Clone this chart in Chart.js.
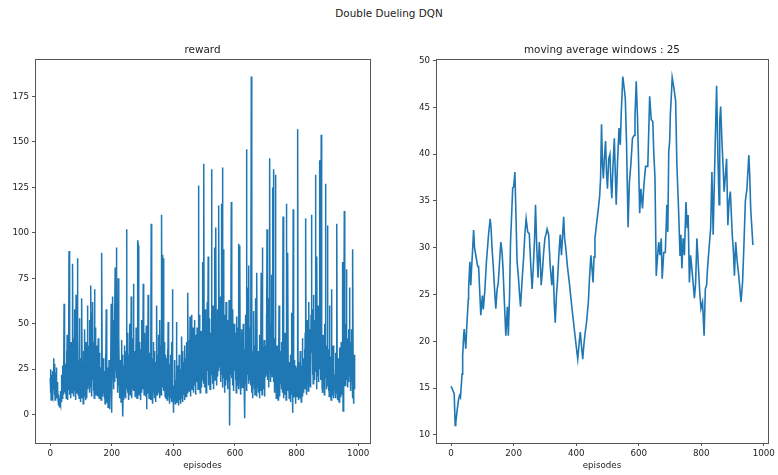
<!DOCTYPE html>
<html><head><meta charset="utf-8">
<script src="https://cdn.jsdelivr.net/npm/chart.js@4.4.1/dist/chart.umd.min.js"></script>
<style>
html,body{margin:0;padding:0;background:#fff;}
#wrap{position:relative;width:778px;height:475px;overflow:hidden;background:#fff;}
#sup{position:absolute;left:0;width:778px;top:7px;text-align:center;font-family:'DejaVu Sans';font-size:10.4px;line-height:13px;color:#222;}
canvas{position:absolute;top:0;}
</style></head><body>
<div id="wrap">
<div id="sup">Double Dueling DQN</div>
<canvas id="c1" width="389" height="475" style="left:0px"></canvas>
<canvas id="c2" width="389" height="475" style="left:389px"></canvas>
</div>
<script>
const suptitle = 'Double Dueling DQN';
const leftTitle = 'reward';
const rightTitle = 'moving average windows : 25';
const xLabel = 'episodes';
const episodeTicks = [0, 200, 400, 600, 800, 1000];
const rewardYTicks = [0, 25, 50, 75, 100, 125, 150, 175];
const maYTicks = [10, 15, 20, 25, 30, 35, 40, 45, 50];

const rewards = [
20,12,25,8,18,22,10,15,24,9,19,31,14,28,11,17,8,23,13,16,26,9,12,18,10,
14,7,11,5,9,4,8,6,13,5,10,7,18,22,9,27,12,15,20,11,61,16,24,13,19,
12,28,9,35,17,44,8,25,14,38,21,90,15,30,11,35,26,9,40,18,33,12,30,83,20,
16,42,10,27,58,13,34,8,24,66,19,37,12,86,22,48,11,30,15,9,53,18,26,7,31,
14,20,9,64,17,11,28,6,35,13,22,10,47,15,8,30,12,40,19,9,26,60,14,33,21,
38,18,52,12,29,44,15,71,24,10,56,33,19,62,27,13,40,22,9,69,35,17,48,21,11,
25,14,38,10,30,17,42,12,20,9,34,15,26,11,19,8,28,13,89,16,22,10,31,12,18,
15,9,24,6,33,12,20,58,11,17,7,26,14,4,22,10,30,8,16,3,19,12,27,61,5,
1,40,22,65,30,14,52,26,38,18,58,81,24,45,33,92,20,36,12,50,28,75,16,42,25,
18,9,30,12,24,7,41,15,20,10,33,-1,16,27,8,22,13,38,11,25,9,19,35,102,14,
26,12,45,19,33,8,28,50,15,22,11,37,18,65,24,9,30,14,42,20,72,27,13,35,17,
22,10,34,16,48,13,27,9,38,20,96,93,15,31,11,25,40,14,28,8,36,19,52,12,24,
30,14,72,21,37,11,45,18,26,10,33,16,49,3,24,12,39,20,66,15,28,9,34,17,23,
19,8,27,105,14,22,10,31,6,18,40,13,25,9,35,12,20,7,29,15,24,60,11,33,16,
28,12,44,17,35,9,52,21,14,38,11,26,110,19,30,15,88,24,86,13,40,18,27,10,33,
20,9,31,14,25,8,36,12,51,17,10,28,6,22,13,33,9,19,11,40,7,24,69,15,12,
1,16,8,24,11,30,6,19,13,9,51,14,7,22,10,27,5,18,12,33,8,15,20,6,25,
14,9,43,12,26,7,35,18,11,29,15,8,38,20,13,31,10,24,16,40,12,27,67,19,33,
22,13,41,17,54,24,10,36,19,45,55,14,30,21,48,12,27,38,16,52,20,33,11,44,25,
30,18,48,22,35,14,126,27,40,16,55,24,12,38,20,46,15,33,19,28,84,25,42,17,138,
26,44,15,58,21,33,12,49,27,18,62,24,37,87,16,41,20,30,53,14,28,45,19,36,135,
22,48,17,35,60,28,14,41,92,25,38,19,52,103,30,16,44,27,58,21,36,115,24,107,33,
40,26,65,18,50,31,116,22,44,136,29,15,91,37,20,55,12,34,24,47,16,62,28,19,38,
30,14,52,25,40,18,63,11,-6,35,22,48,27,117,115,20,44,16,58,29,37,13,50,24,41,
27,45,19,33,12,54,24,38,16,48,21,30,14,94,26,90,93,18,40,11,35,22,47,15,29,
33,18,50,24,41,15,28,-2,36,20,55,26,146,30,13,44,22,38,70,17,82,25,48,19,31,
24,41,16,186,28,12,35,20,9,30,17,57,23,14,38,11,26,64,19,31,10,78,22,15,27,
20,35,12,28,9,44,17,24,13,31,78,19,26,11,92,22,37,14,29,16,41,10,33,21,25,
38,22,55,30,102,19,46,27,64,15,40,33,24,141,28,50,18,36,77,26,60,21,125,35,44,
135,18,42,12,29,22,132,15,33,9,26,14,38,11,20,8,31,16,60,13,24,10,35,17,22,
28,14,40,19,33,12,109,21,9,36,17,26,11,45,15,30,8,116,22,38,13,27,89,16,24,
18,9,29,13,22,7,33,15,11,26,56,19,8,1,113,14,24,10,30,12,20,6,27,16,21,
15,26,10,33,157,12,20,8,29,14,23,9,35,11,18,7,27,13,22,42,10,19,31,12,24,
20,36,14,45,22,108,17,30,11,52,25,19,40,13,33,62,16,28,47,21,38,15,55,110,90,
34,58,22,45,17,66,28,40,19,52,24,37,132,30,48,14,87,26,39,21,60,33,18,44,29,
140,25,48,19,36,154,22,41,15,30,12,44,27,18,35,11,50,24,33,127,20,38,14,29,16,
104,90,21,36,13,28,10,60,17,32,12,25,8,69,19,30,11,23,15,38,9,27,14,22,18,
16,28,9,34,12,23,105,15,26,8,31,13,20,7,37,18,24,10,29,14,40,11,22,17,33,
84,2,30,45,21,112,26,38,16,50,24,33,80,19,42,28,15,36,22,47,18,31,70,25,40,
22,13,35,47,18,28,9,40,91,15,6,26,33,14,24
];

const maEpisodes = [
0,5,10,13,15,20,24,27,30,35,37,40,42,45,47,50,55,56,60,63,65,70,72,75,79,85,88,92,95,100,
103,108,113,120,125,128,131,135,140,143,147,151,155,159,163,166,170,175,180,183,187,190,193,197,200,204,207,211,215,219,
222,227,232,236,240,245,250,255,259,263,267,270,274,278,282,286,288,292,296,300,304,307,312,317,322,326,330,333,337,340,
345,349,353,356,360,363,367,372,378,382,386,390,395,400,405,410,413,417,421,425,429,433,439,443,447,450,454,457,460,465,
471,475,478,481,484,487,490,494,497,500,504,508,511,514,518,522,525,528,532,537,541,544,549,552,557,561,566,570,575,580,
585,588,592,596,599,603,607,612,617,622,629,635,640,645,648,652,656,660,664,668,672,675,680,685,690,693,696,699,701,704,
707,712,718,722,728,732,735,738,742,746,751,755,758,762,766,771,778,782,786,790,795,799,804,809,813,817,820,825,830,834,
838,844,849,853,857,859,862,866,870,873,877,881,885,889,893,899,903,906,910,915,920,927,932,936,941,946,952,955,958,962,
965
];
const maValues = [
15.2,14.8,14.4,11.0,11.3,12.8,13.8,14.2,14.0,16.5,18.5,20.5,21.3,20.0,19.2,21.5,24.5,25.6,28.5,26.0,27.5,30.5,31.9,30.0,29.2,28.0,28.0,25.0,22.8,24.9,
23.4,25.5,28.5,31.5,33.1,32.0,29.9,28.0,25.0,23.5,25.5,26.3,28.5,30.6,29.5,27.8,24.5,20.6,23.7,20.6,25.0,30.6,33.0,36.4,36.5,38.1,34.0,28.5,27.0,25.0,
23.7,26.5,29.0,31.5,33.1,31.7,31.5,28.0,25.6,28.0,31.0,34.6,30.0,26.8,30.6,28.0,26.0,27.5,29.5,31.0,31.5,32.0,31.4,28.0,26.0,28.1,24.0,22.0,25.0,26.3,
29.5,31.4,29.2,31.0,33.3,31.0,29.9,28.0,26.3,25.0,23.7,22.5,21.0,19.5,18.1,20.0,21.0,19.5,18.1,19.8,21.0,22.0,24.2,27.0,29.2,28.0,26.3,29.0,31.0,32.5,
34.2,35.5,37.4,43.2,39.0,37.4,39.5,41.4,38.0,36.3,39.5,40.0,37.0,35.3,39.0,41.7,38.0,34.6,39.0,42.8,41.0,44.3,48.3,47.5,46.0,41.2,32.2,36.9,39.0,41.7,
42.0,44.0,47.8,44.0,40.0,33.7,36.3,34.2,36.9,38.7,38.7,46.2,43.7,43.5,40.3,37.4,27.0,29.0,30.6,29.2,31.0,26.7,29.5,29.5,34.6,31.7,40.3,41.4,44.2,46.0,
48.2,47.2,45.7,38.9,33.5,29.2,31.4,27.8,31.0,29.2,34.9,32.1,33.5,26.3,29.2,27.4,24.6,26.3,31.0,28.5,25.3,23.5,24.2,20.6,25.6,26.0,27.8,30.0,32.1,38.1,
31.4,40.3,47.3,40.0,34.6,43.5,45.1,41.4,38.5,36.0,37.7,39.5,32.4,35.0,36.0,31.4,29.5,27.0,30.6,28.5,27.0,24.2,26.3,29.9,35.0,36.3,39.9,37.7,34.2,32.0,
30.3
];

Chart.defaults.font.family = "'DejaVu Sans', sans-serif";
const INK = '#222';
const SPINE = '#555';

const frame = {
  id: 'frame',
  afterDraw(chart) {
    const a = chart.chartArea, c = chart.ctx;
    c.save();
    c.strokeStyle = SPINE;
    c.lineWidth = 1;
    c.strokeRect(Math.round(a.left) + 0.5, Math.round(a.top) + 0.5,
                 Math.round(a.right) - Math.round(a.left), Math.round(a.bottom) - Math.round(a.top));
    c.restore();
  }
};

function padded(lo, hi) { const m = (hi - lo) * 0.05; return [lo - m, hi + m]; }

function makeChart(id, xs, ys, yTicks, title, yAxisWidth, rightPad, lw) {
  const pts = ys.map((v, i) => ({x: xs[i], y: v}));
  const [xMin, xMax] = padded(Math.min(...xs), Math.max(...xs));
  const [yMin, yMax] = padded(Math.min(...ys), Math.max(...ys));
  return new Chart(document.getElementById(id), {
    type: 'line',
    data: {datasets: [{data: pts, borderColor: '#1f77b4', borderWidth: lw, pointRadius: 0, tension: 0, fill: false}]},
    options: {
      responsive: false, animation: false, devicePixelRatio: 1,
      parsing: false, normalized: true,
      layout: {padding: {left: 0, right: rightPad, top: 0, bottom: 0}},
      plugins: {
        legend: {display: false}, tooltip: {enabled: false},
        title: {display: true, text: title, fullSize: false, color: INK,
                font: {size: 10.4, weight: 'normal', lineHeight: 1.2},
                padding: {top: 43.8, bottom: 2.8}}
      },
      scales: {
        x: {
          type: 'linear', min: xMin, max: xMax,
          afterFit: s => { s.height = 32; },
          afterBuildTicks: s => { s.ticks = episodeTicks.map(v => ({value: v})); },
          grid: {display: true, drawOnChartArea: false, drawTicks: true, tickLength: 3, color: SPINE},
          border: {display: false},
          ticks: {padding: 3, color: INK, font: {size: 8.7}, maxRotation: 0, autoSkip: false, callback: v => String(v)},
          title: {display: true, text: xLabel, color: INK, font: {size: 8.7}, padding: {top: 0, bottom: 3.8}}
        },
        y: {
          type: 'linear', min: yMin, max: yMax,
          afterFit: s => { s.width = yAxisWidth; },
          afterBuildTicks: s => { s.ticks = yTicks.map(v => ({value: v})); },
          grid: {display: true, drawOnChartArea: false, drawTicks: true, tickLength: 3, color: SPINE},
          border: {display: false},
          ticks: {padding: 3, color: INK, font: {size: 8.7}, autoSkip: false, callback: v => String(v)}
        }
      }
    },
    plugins: [frame]
  });
}

const rewardEpisodes = rewards.map((_, i) => i);
makeChart('c1', rewardEpisodes, rewards, rewardYTicks, leftTitle, 35, 19, 1.5);
makeChart('c2', maEpisodes, maValues, maYTicks, rightTitle, 47, 7, 1.6);
document.getElementById('sup').textContent = suptitle;
</script>
</body></html>
